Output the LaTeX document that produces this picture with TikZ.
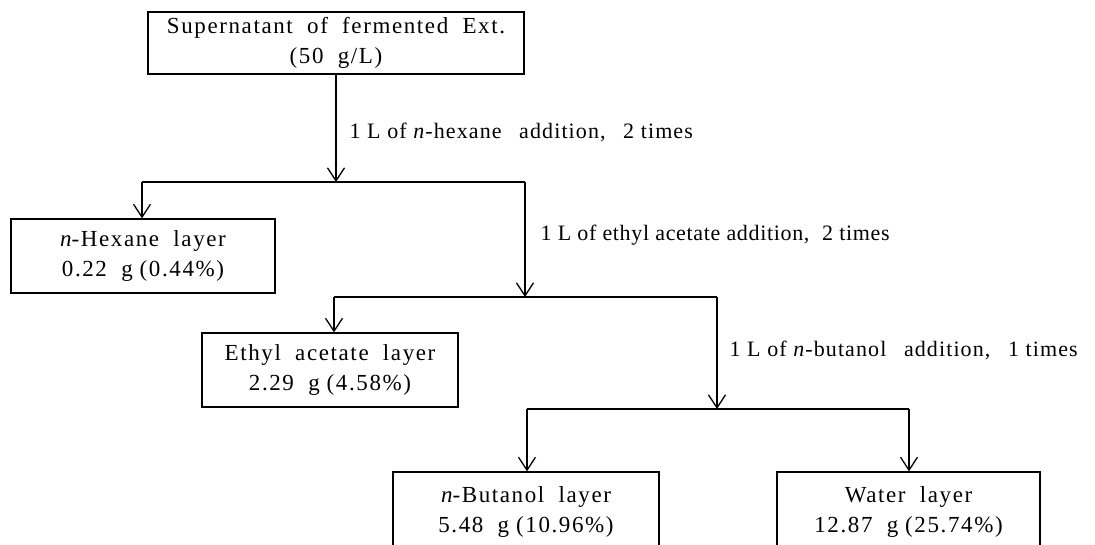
\documentclass[tikz,border=0pt]{standalone}
\usepackage{fontspec}
\setmainfont{Liberation Serif}
\newfontfamily\boxfont[LetterSpace=7]{Liberation Serif}
\newfontfamily\lblfont[LetterSpace=5]{Liberation Serif}
\newfontfamily\lblfontb[LetterSpace=3]{Liberation Serif}
\usetikzlibrary{arrows.meta}
\newcommand{\ws}{\hspace{0.3em}}
\newcommand{\wl}{\hspace{0.8em}}
\begin{document}
\begin{tikzpicture}[x=1pt,y=-1pt,
  line width=1.3pt,
  box/.style={draw, line width=1.3pt, inner sep=0pt, align=center,
    font=\boxfont\fontsize{23}{30}\selectfont},
  lbl/.style={anchor=west, inner sep=0pt, font=\lblfont\fontsize{22}{24}\selectfont},
  lblb/.style={anchor=west, inner sep=0pt, font=\lblfontb\fontsize{22}{24}\selectfont},
  arr/.style={-{Straight Barb[length=13pt,width=17pt,line width=1.3pt]}}]
\useasboundingbox (0,0) rectangle (1095,544);
% boxes
\node[box, minimum width=376pt, minimum height=62pt] (b1) at (336,43)
  {Supernatant\ws{} of\ws{} fermented\ws{} Ext.\\(50\ws{} g/L)};
\node[box, minimum width=264pt, minimum height=74pt] (b2) at (143,256)
  {{\itshape n}-Hexane\ws{} layer\\0.22\ws{} g\ws{}(0.44\%)};
\node[box, minimum width=256pt, minimum height=74pt] (b3) at (330,370)
  {Ethyl\ws{} acetate\ws{} layer\\2.29\ws{} g\ws{}(4.58\%)};
\node[box, minimum width=266pt, minimum height=80pt] (b4) at (526,512)
  {{\itshape n}-Butanol\ws{} layer\\5.48\ws{} g\ws{}(10.96\%)};
\node[box, minimum width=263pt, minimum height=80pt] (b5) at (908.5,512)
  {Water\ws{} layer\\12.87\ws{} g\ws{}(25.74\%)};
% junction coordinates
\coordinate (j1) at (336,182);
\coordinate (l1) at (142,182);
\coordinate (r1) at (525,182);
\coordinate (j2) at (525,297);
\coordinate (l2) at (334,297);
\coordinate (r2) at (717,297);
\coordinate (j3) at (717,409);
\coordinate (l3) at (527,409);
\coordinate (r3) at (909,409);
% connectors
\draw[arr] (b1.south) -- (j1);
\draw (l1) -- (r1);
\draw[arr] (l1) -- (l1 |- b2.north);
\draw[arr] (r1) -- (j2);
\draw (l2) -- (r2);
\draw[arr] (l2) -- (l2 |- b3.north);
\draw[arr] (r2) -- (j3);
\draw (l3) -- (r3);
\draw[arr] (l3) -- (l3 |- b4.north);
\draw[arr] (r3) -- (r3 |- b5.north);
% labels
\node[lbl] (t1) at (349,132) {1 L of \textit{n}-hexane\wl{}addition,\wl{}2 times};
\node[lblb] (t2) at (540,235) {1 L of ethyl acetate addition,\ws{} 2 times};
\node[lbl] (t3) at (729,350) {1 L of \textit{n}-butanol\wl{}addition,\wl{}1 times};
\end{tikzpicture}
\end{document}
